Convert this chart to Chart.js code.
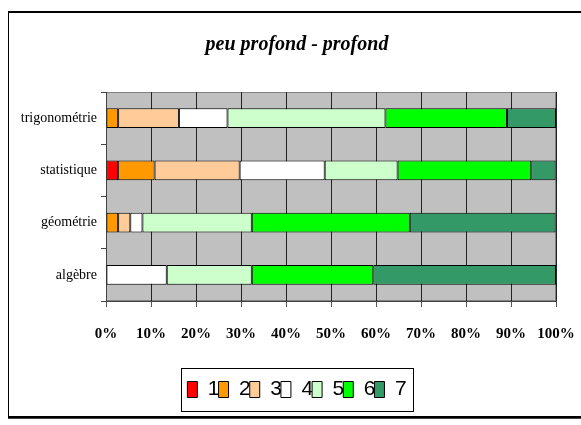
<!DOCTYPE html>
<html>
<head>
<meta charset="utf-8">
<script src="https://cdn.jsdelivr.net/npm/chart.js@4/dist/chart.umd.min.js"></script>
<style>
  html, body { margin: 0; padding: 0; background: #fff; overflow: hidden; }
  #frame {
    position: absolute; left: 8px; top: 11px; width: 640px; height: 403px;
    border: 1px solid #000; border-top-width: 2px; border-bottom-width: 2px;
    box-shadow: 0 1px 0 #444;
  }
  #wrap { position: absolute; left: 0; top: 0; width: 581px; height: 425px; }
</style>
</head>
<body>
<div id="frame"></div>
<div id="wrap"><canvas id="chart"></canvas></div>
<script>
// categories, top to bottom
const categories = ['trigonométrie', 'statistique', 'géométrie', 'algèbre'];

// percentage per answer level
const level1 = [0, 2.7, 0, 0];
const level2 = [2.7, 8.1, 2.7, 0];
const level3 = [13.5, 18.9, 2.7, 0];
const level4 = [10.8, 18.9, 2.7, 13.5];
const level5 = [35.1, 16.2, 24.3, 18.9];
const level6 = [27.0, 29.7, 35.1, 27.0];
const level7 = [10.9, 5.4, 32.4, 40.6];

const seriesNames = ['1', '2', '3', '4', '5', '6', '7'];
const seriesColors = ['#FF0000', '#FF9900', '#FFCC99', '#FFFFFF', '#CCFFCC', '#00FF00', '#339966'];
const xTicks = [0, 10, 20, 30, 40, 50, 60, 70, 80, 90, 100];

const allSeries = [level1, level2, level3, level4, level5, level6, level7];

// gray plot background + legend frame
const decor = {
    id: 'decor',
    beforeDraw(chart) {
        const a = chart.chartArea;
        const ctx = chart.ctx;
        ctx.save();
        ctx.fillStyle = '#C0C0C0';
        ctx.fillRect(a.left, a.top, a.right - a.left, a.bottom - a.top);
        ctx.strokeStyle = '#808080';
        ctx.lineWidth = 1;
        ctx.strokeRect(a.left + 0.5, a.top + 0.5, a.right - a.left - 1, a.bottom - a.top - 1);
        ctx.restore();
    },
    afterDraw(chart) {
        const boxes = chart.legend.legendHitBoxes;
        if (!boxes || !boxes.length) return;
        const first = boxes[0], last = boxes[boxes.length - 1];
        const ctx = chart.ctx;
        ctx.save();
        ctx.strokeStyle = '#000';
        ctx.lineWidth = 1;
        const x0 = Math.round(first.left - 6) + 0.5;
        const x1 = Math.round(last.left + last.width + 6) + 0.5;
        const y0 = Math.round(first.top - 11) + 0.5;
        const y1 = Math.round(first.top + first.height + 11) + 0.5;
        ctx.strokeRect(x0, y0, x1 - x0, y1 - y0);
        ctx.restore();
    }
};

const ctx = document.getElementById('chart').getContext('2d');
new Chart(ctx, {
    type: 'bar',
    data: {
        labels: categories,
        datasets: allSeries.map((vals, i) => ({
            label: seriesNames[i],
            data: vals,
            backgroundColor: seriesColors[i],
            borderColor: '#000',
            borderWidth: 1,
            borderSkipped: false,
            barPercentage: 0.38,
            categoryPercentage: 1
        }))
    },
    options: {
        indexAxis: 'y',
        responsive: true,
        maintainAspectRatio: false,
        animation: false,
        layout: { padding: { left: 16, right: 3, top: 0, bottom: 15 } },
        plugins: {
            tooltip: { enabled: false },
            title: {
                display: true,
                text: 'peu profond - profond',
                color: '#000',
                font: { family: 'Liberation Serif', size: 20, style: 'italic', weight: 'bold', lineHeight: 1.2 },
                padding: { top: 33, bottom: 35 }
            },
            legend: {
                position: 'bottom',
                labels: {
                    color: '#000',
                    boxWidth: 10,
                    boxHeight: 16,
                    padding: -1,
                    font: { family: 'Liberation Sans', size: 21 }
                }
            }
        },
        scales: {
            x: {
                stacked: true,
                min: 0,
                max: 100,
                afterBuildTicks: (scale) => { scale.ticks = xTicks.map(v => ({ value: v })); },
                afterFit: (scale) => { scale.height = 79; scale.paddingRight = 25; },
                ticks: {
                    color: '#000',
                    padding: 18,
                    maxRotation: 0,
                    callback: (v) => v + '%',
                    font: { family: 'Liberation Serif', size: 15, weight: 'bold' }
                },
                grid: { color: '#222', lineWidth: 1, tickLength: 6, tickColor: '#555' },
                border: { color: '#444', width: 1 }
            },
            y: {
                stacked: true,
                afterFit: (scale) => { scale.width = 90; },
                ticks: {
                    color: '#000',
                    padding: 4,
                    font: { family: 'Liberation Serif', size: 14 }
                },
                grid: { drawOnChartArea: false, tickLength: 5, tickColor: '#444', offset: true },
                border: { color: '#444', width: 1 }
            }
        }
    },
    plugins: [decor]
});
</script>
</body>
</html>
